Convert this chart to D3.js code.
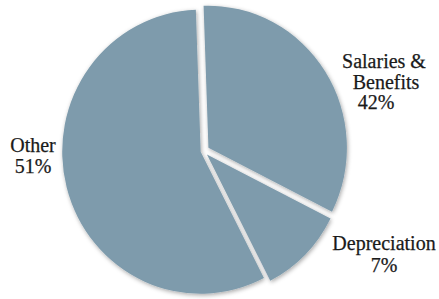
<!DOCTYPE html>
<html>
<head>
<meta charset="utf-8">
<script src="https://cdn.jsdelivr.net/npm/d3@7"></script>
<style>
  body { margin: 0; background: #fff; }
  text { font-family: "Liberation Serif", "DejaVu Serif", serif; fill: #1a1a1a; stroke: #1a1a1a; stroke-width: 0.25; }
</style>
</head>
<body>
<script>
// slice shares as drawn, printed labels below
var categories = ["Salaries & Benefits", "Depreciation", "Other"];
var shares = [33, 10, 57];
var pctLabels = ["42%", "7%", "51%"];
var labelLines = [["Salaries &", "Benefits", "42%"], ["Depreciation", "7%"], ["Other", "51%"]];

var W = 439, H = 299;
var cx = 203.5, cy = 151, r = 142;
var explode = [6, 5, 3];
var rot = -0.035;

var svg = d3.select("body").append("svg")
    .attr("width", W).attr("height", H);

var defs = svg.append("defs");
var f = defs.append("filter").attr("id", "shadow")
    .attr("x", "-20%").attr("y", "-20%").attr("width", "140%").attr("height", "140%");
f.append("feDropShadow")
    .attr("dx", 1).attr("dy", 1.5)
    .attr("stdDeviation", 2.2)
    .attr("flood-color", "#000").attr("flood-opacity", 0.35);

var pie = d3.pie().sort(null).value(d => d)
    .startAngle(rot).endAngle(2 * Math.PI + rot);
var arc = d3.arc().innerRadius(0).outerRadius(r);
var arcs = pie(shares);

// pie is a touch narrower than tall in the original
var g = svg.append("g").attr("transform", "translate(" + cx + "," + cy + ") scale(0.975,1)");

g.selectAll("path")
    .data(arcs)
    .enter()
    .append("path")
    .attr("d", arc)
    .attr("fill", "#7e9bac")
    .attr("filter", "url(#shadow)")
    .attr("transform", (d, i) => {
        var mid = (d.startAngle + d.endAngle) / 2;
        return "translate(" + (Math.sin(mid) * explode[i]) + "," + (-Math.cos(mid) * explode[i]) + ")";
    });

// label layout per category, with per-line x nudges
var labelPos = [
    {x: 384, y: 68, step: 20.5, dx: [0, 2, -8]},
    {x: 384, y: 250, step: 22, dx: [0, 0]},
    {x: 33, y: 152, step: 20.5, dx: [0, 0]}
];

labelLines.forEach((lines, i) => {
    var p = labelPos[i];
    var t = svg.append("text")
        .attr("text-anchor", "middle")
        .attr("font-size", 20)
        .attr("class", "slice-label");
    lines.forEach((ln, j) => {
        t.append("tspan")
            .attr("x", p.x + p.dx[j])
            .attr("y", p.y + j * p.step)
            .text(ln);
    });
});
</script>
</body>
</html>
